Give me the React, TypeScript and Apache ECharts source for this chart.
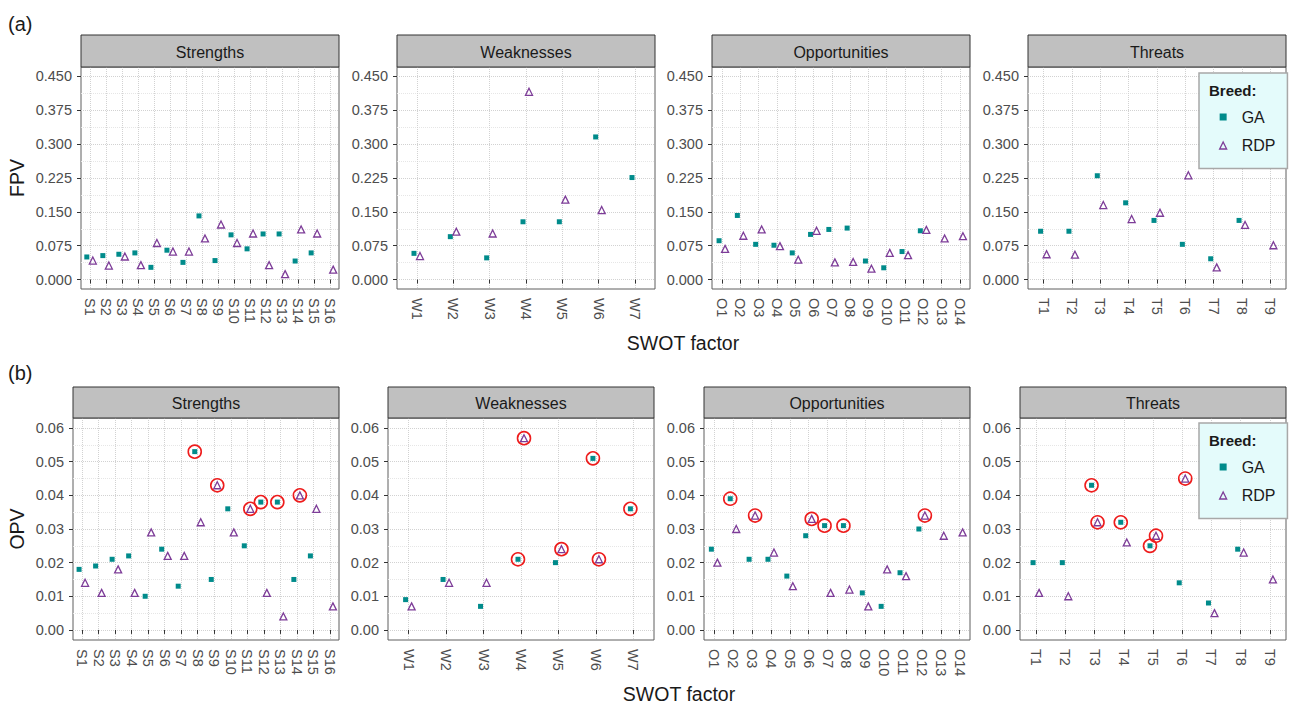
import React, { useEffect, useRef } from "react";
import * as echarts from "echarts";

// ---------- categories ----------
const sCats = ["S1", "S2", "S3", "S4", "S5", "S6", "S7", "S8", "S9", "S10", "S11", "S12", "S13", "S14", "S15", "S16"];
const wCats = ["W1", "W2", "W3", "W4", "W5", "W6", "W7"];
const oCats = ["O1", "O2", "O3", "O4", "O5", "O6", "O7", "O8", "O9", "O10", "O11", "O12", "O13", "O14"];
const tCats = ["T1", "T2", "T3", "T4", "T5", "T6", "T7", "T8", "T9"];

// ---------- (a) FPV ----------
const fpvGA_S = [0.050, 0.053, 0.056, 0.059, 0.027, 0.065, 0.038, 0.141, 0.042, 0.099, 0.068, 0.101, 0.101, 0.041, 0.059, null];
const fpvRDP_S = [0.042, 0.031, 0.051, 0.032, 0.081, 0.062, 0.062, 0.091, 0.122, 0.081, 0.102, 0.032, 0.012, 0.111, 0.102, 0.022];
const fpvGA_W = [0.058, 0.095, 0.048, 0.128, 0.128, 0.316, 0.226];
const fpvRDP_W = [0.052, 0.106, 0.102, 0.416, 0.177, 0.154, null];
const fpvGA_O = [0.086, 0.142, 0.078, 0.076, 0.059, 0.100, 0.111, 0.114, 0.041, 0.026, 0.062, 0.108, null, null];
const fpvRDP_O = [0.068, 0.097, 0.111, 0.074, 0.044, 0.108, 0.038, 0.039, 0.024, 0.059, 0.054, 0.110, 0.091, 0.096];
const fpvGA_T = [0.107, 0.107, 0.230, 0.170, 0.131, 0.078, 0.046, 0.131, null];
const fpvRDP_T = [0.056, 0.055, 0.165, 0.134, 0.148, 0.231, 0.027, 0.121, 0.076];

// ---------- (b) OPV ----------
const opvGA_S = [0.018, 0.019, 0.021, 0.022, 0.010, 0.024, 0.013, 0.053, 0.015, 0.036, 0.025, 0.038, 0.038, 0.015, 0.022, null];
const opvRDP_S = [0.014, 0.011, 0.018, 0.011, 0.029, 0.022, 0.022, 0.032, 0.043, 0.029, 0.036, 0.011, 0.004, 0.040, 0.036, 0.007];
const opvGA_W = [0.009, 0.015, 0.007, 0.021, 0.020, 0.051, 0.036];
const opvRDP_W = [0.007, 0.014, 0.014, 0.057, 0.024, 0.021, null];
const opvGA_O = [0.024, 0.039, 0.021, 0.021, 0.016, 0.028, 0.031, 0.031, 0.011, 0.007, 0.017, 0.030, null, null];
const opvRDP_O = [0.020, 0.030, 0.034, 0.023, 0.013, 0.033, 0.011, 0.012, 0.007, 0.018, 0.016, 0.034, 0.028, 0.029];
const opvGA_T = [0.020, 0.020, 0.043, 0.032, 0.025, 0.014, 0.008, 0.024, null];
const opvRDP_T = [0.011, 0.010, 0.032, 0.026, 0.028, 0.045, 0.005, 0.023, 0.015];

// ---------- highlighted (circled) factors in (b) ----------
const hlGA_S = ["S8", "S12", "S13"];
const hlRDP_S = ["S9", "S11", "S14"];
const hlGA_W = ["W4", "W6", "W7"];
const hlRDP_W = ["W4", "W5", "W6"];
const hlGA_O = ["O2", "O7", "O8"];
const hlRDP_O = ["O3", "O6", "O12"];
const hlGA_T = ["T3", "T4", "T5"];
const hlRDP_T = ["T3", "T5", "T6"];

// ---------- tick labels ----------
const fpvTicks = [0, 0.075, 0.15, 0.225, 0.3, 0.375, 0.45];
const opvTicks = [0, 0.01, 0.02, 0.03, 0.04, 0.05, 0.06];

const FONT = '"Liberation Sans", Arial, Helvetica, sans-serif';
const GA_COLOR = "#008B8B";
const RDP_COLOR = "#7D3C98";
const HL_COLOR = "#EE1C1C";
const LABEL_COLOR = "#4D4D4D";
const TITLE_COLOR = "#1A1A1A";

export default function App() {
  const ref = useRef<HTMLDivElement>(null);

  useEffect(() => {
    const chart = echarts.init(ref.current as HTMLDivElement, null, { renderer: "svg" });

    const facets = [
      { title: "Strengths", cats: sCats, f: [fpvGA_S, fpvRDP_S], o: [opvGA_S, opvRDP_S], h: [hlGA_S, hlRDP_S] },
      { title: "Weaknesses", cats: wCats, f: [fpvGA_W, fpvRDP_W], o: [opvGA_W, opvRDP_W], h: [hlGA_W, hlRDP_W] },
      { title: "Opportunities", cats: oCats, f: [fpvGA_O, fpvRDP_O], o: [opvGA_O, opvRDP_O], h: [hlGA_O, hlRDP_O] },
      { title: "Threats", cats: tCats, f: [fpvGA_T, fpvRDP_T], o: [opvGA_T, opvRDP_T], h: [hlGA_T, hlRDP_T] },
    ];

    const rows = [
      { key: "f", top: 67, height: 222, lefts: [81, 397, 712, 1028], width: 258, min: -0.021, max: 0.471, ticks: fpvTicks, dec: 3, stripTop: 35, stripH: 32, hl: false },
      { key: "o", top: 418, height: 222, lefts: [73, 388, 704, 1020], width: 266, min: -0.003, max: 0.063, ticks: opvTicks, dec: 2, stripTop: 387, stripH: 31, hl: true },
    ];

    const grids: any[] = [];
    const xAxes: any[] = [];
    const yAxes: any[] = [];
    const series: any[] = [];
    const graphics: any[] = [];

    const tickStyle = { color: "#333333", width: 1 };
    const labelStyle = { fontFamily: FONT, fontSize: 14.5, color: LABEL_COLOR };

    rows.forEach((row, r) => {
      const minor = row.ticks.slice(0, -1).map((t, i) => (t + row.ticks[i + 1]) / 2);
      facets.forEach((fc, c) => {
        const gi = r * 4 + c;
        const left = row.lefts[c];
        grids.push({
          left,
          top: row.top,
          width: row.width,
          height: row.height,
          show: true,
          borderColor: "#5E5E5E",
          borderWidth: 1,
          backgroundColor: "#ffffff",
        });
        const n = fc.cats.length;
        const xVals = fc.cats.map((_, i) => i + 1);
        xAxes.push({
          type: "value",
          gridIndex: gi,
          min: 0.45,
          max: n + 0.55,
          axisLine: { show: false },
          axisTick: { show: true, length: 4, lineStyle: tickStyle, customValues: xVals },
          axisLabel: {
            ...labelStyle,
            customValues: xVals,
            rotate: -90,
            margin: 9,
            formatter: (v: number) => fc.cats[Math.round(v) - 1] ?? "",
          },
          splitLine: { show: true, lineStyle: { type: "dotted", color: "#D2D2D2", width: 1 } },
        });
        yAxes.push({
          type: "value",
          gridIndex: gi,
          position: "left",
          min: row.min,
          max: row.max,
          axisLine: { show: false },
          axisTick: { show: true, length: 4, lineStyle: tickStyle, customValues: row.ticks },
          axisLabel: {
            ...labelStyle,
            customValues: row.ticks,
            margin: 9,
            formatter: (v: number) => v.toFixed(row.dec),
          },
          splitLine: { show: true, lineStyle: { type: "dotted", color: "#D2D2D2", width: 1 } },
        });
        yAxes.push({
          type: "value",
          gridIndex: gi,
          position: "left",
          min: row.min,
          max: row.max,
          axisLine: { show: false },
          axisTick: { show: false, customValues: minor },
          axisLabel: { show: false, customValues: minor },
          splitLine: { show: true, lineStyle: { type: "dotted", color: "#E6E6E6", width: 1 } },
        });
        const yi = gi * 2;
        const vals = row.key === "f" ? fc.f : fc.o;
        const toData = (arr: (number | null)[]) =>
          arr.map((v, i) => (v == null ? null : [i + 1, v])).filter((d) => d !== null);

        series.push({
          type: "scatter",
          name: "GA",
          xAxisIndex: gi,
          yAxisIndex: yi,
          symbol: "rect",
          symbolSize: 5,
          symbolOffset: [-3, 0],
          itemStyle: { color: GA_COLOR, opacity: 1 },
          silent: true,
          z: 3,
          data: toData(vals[0]),
        });
        series.push({
          type: "scatter",
          name: "RDP",
          xAxisIndex: gi,
          yAxisIndex: yi,
          symbol: "triangle",
          symbolSize: 7,
          symbolOffset: [3, 0],
          itemStyle: { color: "rgba(255,255,255,0)", borderColor: RDP_COLOR, borderWidth: 1.3, opacity: 1 },
          silent: true,
          z: 3,
          data: toData(vals[1]),
        });
        if (row.hl) {
          [0, 1].forEach((k) => {
            series.push({
              type: "scatter",
              name: "highlight",
              xAxisIndex: gi,
              yAxisIndex: yi,
              symbol: "circle",
              symbolSize: 13,
              symbolOffset: [k === 0 ? -3 : 3, 0],
              itemStyle: { color: "rgba(255,255,255,0)", borderColor: HL_COLOR, borderWidth: 1.6, opacity: 1 },
              silent: true,
              z: 4,
              data: fc.h[k].map((name) => {
                const idx = fc.cats.indexOf(name);
                return [idx + 1, vals[k][idx]];
              }),
            });
          });
        }

        // strip header
        graphics.push({
          type: "rect",
          z: 10,
          shape: { x: left, y: row.stripTop, width: row.width, height: row.stripH },
          style: { fill: "#C0C0C0", stroke: "#333333", lineWidth: 1 },
          silent: true,
        });
        graphics.push({
          type: "text",
          z: 11,
          x: left + row.width / 2,
          y: row.stripTop + row.stripH / 2 + 1,
          style: {
            text: fc.title,
            font: `16px ${FONT}`,
            fill: TITLE_COLOR,
            textAlign: "center",
            textVerticalAlign: "middle",
            align: "center",
            verticalAlign: "middle",
          },
          silent: true,
        });
      });
    });

    const txt = (text: string, x: number, y: number, size: number, opts: any = {}) => ({
      type: "text",
      z: 20,
      x,
      y,
      rotation: opts.rotation || 0,
      silent: true,
      style: {
        text,
        font: `${opts.bold ? "bold " : ""}${size}px ${FONT}`,
        fill: opts.fill || TITLE_COLOR,
        textAlign: opts.align || "center",
        textVerticalAlign: "middle",
        align: opts.align || "center",
        verticalAlign: "middle",
      },
    });

    graphics.push(txt("(a)", 8, 24, 20, { align: "left" }));
    graphics.push(txt("(b)", 8, 373, 20, { align: "left" }));
    graphics.push(txt("FPV", 17, 178, 19.5, { rotation: Math.PI / 2 }));
    graphics.push(txt("OPV", 17, 529, 19.5, { rotation: Math.PI / 2 }));
    graphics.push(txt("SWOT factor", 683, 343, 19.5));
    graphics.push(txt("SWOT factor", 679, 694, 19.5));
    graphics.push(txt("Breed:", 1209, 90, 15, { bold: true, align: "left" }));
    graphics.push(txt("Breed:", 1209, 440, 15, { bold: true, align: "left" }));

    const legendBase = {
      orient: "vertical",
      left: 1199,
      padding: [36, 12, 15, 20],
      itemWidth: 7,
      itemHeight: 7,
      itemGap: 12.5,
      backgroundColor: "#E4FBFB",
      borderColor: "#A8A8A8",
      borderWidth: 1.5,
      selectedMode: false,
      data: [
        { name: "GA", itemStyle: { color: GA_COLOR, opacity: 1 } },
        { name: "RDP", itemStyle: { color: "rgba(255,255,255,0)", borderColor: RDP_COLOR, borderWidth: 1.3, opacity: 1 } },
      ],
      textStyle: { fontFamily: FONT, fontSize: 16, color: TITLE_COLOR, lineHeight: 16, padding: [0, 0, 0, 10] },
      z: 15,
    };

    chart.setOption({
      animation: false,
      backgroundColor: "#ffffff",
      textStyle: { fontFamily: FONT },
      grid: grids,
      xAxis: xAxes,
      yAxis: yAxes,
      series,
      legend: [
        { ...legendBase, top: 73 },
        { ...legendBase, top: 423 },
      ],
      graphic: { elements: graphics },
    });

    return () => {
      chart.dispose();
    };
  }, []);

  return (
    <div
      ref={ref}
      style={{ position: "fixed", left: 0, top: 0, width: 1290, height: 705 }}
    />
  );
}
